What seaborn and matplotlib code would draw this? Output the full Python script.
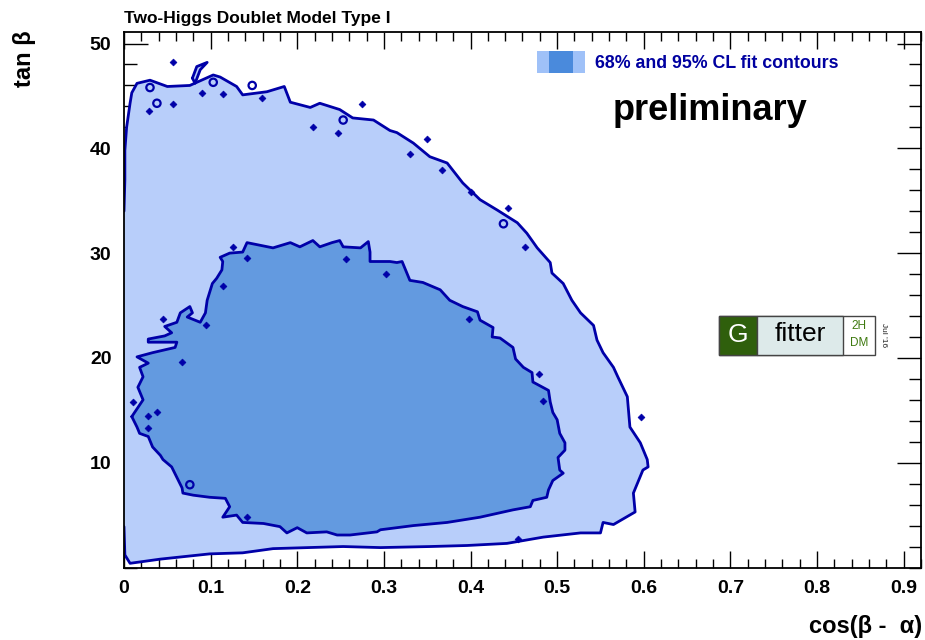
import numpy as np
import pandas as pd
import matplotlib
matplotlib.use("Agg")
import matplotlib.pyplot as plt
from matplotlib.patches import Rectangle
from matplotlib.ticker import MultipleLocator
import seaborn as sns

# ---- fit contours in (cos(beta-alpha), tan beta) ----
cl95_x = [0.000, 0.001, 0.001, 0.003, 0.007, 0.009, 0.015, 0.030, 0.050, 0.076, 0.103,
          0.111, 0.130, 0.137, 0.165, 0.185, 0.192, 0.215, 0.226, 0.249, 0.264, 0.288,
          0.307, 0.315, 0.334, 0.353, 0.373, 0.391, 0.411, 0.431, 0.454, 0.465, 0.477,
          0.492, 0.494, 0.507, 0.517, 0.527, 0.542, 0.546, 0.553, 0.565, 0.570, 0.581,
          0.584, 0.596, 0.604, 0.605, 0.599, 0.588, 0.590, 0.565, 0.553, 0.550, 0.527,
          0.484, 0.442, 0.396, 0.353, 0.296, 0.253, 0.172, 0.137, 0.099, 0.042, 0.007,
          0.001, 0.000]
cl95_y = [34.0, 37.0, 39.8, 42.0, 44.3, 45.3, 46.2, 46.5, 45.9, 46.0, 47.0,
          46.8, 45.9, 45.1, 45.4, 45.9, 44.4, 43.9, 44.3, 43.7, 42.9, 42.7,
          41.7, 41.5, 40.5, 39.2, 38.6, 36.7, 35.1, 34.1, 32.9, 31.9, 30.5,
          29.1, 28.1, 27.1, 25.5, 24.3, 23.1, 21.7, 20.5, 19.1, 18.2, 16.3,
          13.4, 11.9, 10.3, 9.6, 9.3, 7.1, 5.3, 4.1, 4.3, 3.3, 3.3,
          2.9, 2.3, 2.1, 2.0, 1.9, 2.0, 1.8, 1.4, 1.3, 0.8, 0.4,
          1.2, 3.9]

cl68_x = [0.009, 0.022, 0.016, 0.022, 0.018, 0.028, 0.015, 0.033, 0.059, 0.061, 0.028,
          0.028, 0.047, 0.055, 0.047, 0.061, 0.065, 0.076, 0.079, 0.073, 0.088, 0.094,
          0.096, 0.102, 0.107, 0.113, 0.114, 0.111, 0.122, 0.137, 0.142, 0.154, 0.172,
          0.184, 0.192, 0.203, 0.218, 0.226, 0.240, 0.249, 0.253, 0.273, 0.282, 0.284,
          0.284, 0.307, 0.315, 0.321, 0.330, 0.345, 0.365, 0.376, 0.391, 0.408, 0.411,
          0.426, 0.425, 0.434, 0.449, 0.452, 0.461, 0.471, 0.472, 0.490, 0.492, 0.495,
          0.500, 0.503, 0.509, 0.509, 0.501, 0.503, 0.507, 0.495, 0.490, 0.488, 0.472,
          0.469, 0.449, 0.411, 0.373, 0.334, 0.296, 0.292, 0.261, 0.246, 0.234, 0.211,
          0.200, 0.188, 0.180, 0.161, 0.137, 0.130, 0.114, 0.122, 0.117, 0.099, 0.080,
          0.068, 0.067, 0.061, 0.055, 0.045, 0.042, 0.033, 0.028, 0.018, 0.015, 0.009]
cl68_y = [14.4, 16.0, 17.2, 18.2, 19.1, 19.5, 20.1, 20.5, 21.0, 21.5, 21.5,
          21.8, 22.1, 22.4, 23.0, 23.4, 24.3, 24.9, 24.3, 23.9, 23.4, 24.3,
          25.5, 27.1, 27.6, 28.4, 29.2, 29.6, 30.0, 30.1, 31.0, 30.8, 30.5,
          30.8, 31.0, 30.6, 31.2, 30.6, 31.0, 31.2, 30.6, 30.5, 31.1, 30.1,
          29.2, 29.2, 29.1, 29.2, 27.4, 27.2, 26.5, 25.5, 24.9, 24.4, 23.6,
          22.9, 22.0, 21.9, 21.0, 19.9, 19.1, 18.6, 17.7, 16.9, 15.8, 14.8,
          14.1, 12.8, 11.9, 11.2, 10.5, 9.3, 9.0, 8.3, 7.4, 6.7, 6.4,
          5.8, 5.5, 4.8, 4.3, 4.0, 3.6, 3.4, 3.1, 3.1, 3.4, 3.3,
          3.8, 3.3, 3.9, 4.2, 4.3, 5.0, 4.8, 5.8, 6.6, 6.7, 6.9,
          7.1, 7.6, 8.6, 9.6, 10.3, 10.7, 11.5, 12.5, 12.8, 13.4, 14.4]

# small detached 95% island near the top edge
isl_x = [0.079, 0.084, 0.096, 0.088, 0.082, 0.079]
isl_y = [46.7, 47.8, 48.2, 47.5, 46.2, 46.7]

# isolated fluctuation points of the scan
dot_x = [0.057, 0.090, 0.114, 0.159, 0.057, 0.029, 0.275, 0.218, 0.247, 0.350, 0.330,
         0.367, 0.400, 0.443, 0.463, 0.597, 0.455,
         0.126, 0.142, 0.114, 0.045, 0.095, 0.067, 0.010, 0.028, 0.038, 0.028,
         0.256, 0.303, 0.398, 0.479, 0.484, 0.142]
dot_y = [48.2, 45.3, 45.2, 44.8, 44.2, 43.6, 44.2, 42.0, 41.5, 40.9, 39.5,
         37.9, 35.8, 34.3, 30.6, 14.4, 2.7,
         30.6, 29.5, 26.9, 23.7, 23.1, 19.6, 15.8, 14.5, 14.8, 13.3,
         29.4, 28.0, 23.7, 18.5, 15.9, 4.8]

# small closed rings of the scan
ring_x = [0.030, 0.038, 0.103, 0.148, 0.253, 0.438, 0.076]
ring_y = [45.8, 44.3, 46.3, 46.0, 42.7, 32.8, 7.9]

x_ticks = [0.0, 0.1, 0.2, 0.3, 0.4, 0.5, 0.6, 0.7, 0.8, 0.9]
x_tick_labels = ["0", "0.1", "0.2", "0.3", "0.4", "0.5", "0.6", "0.7", "0.8", "0.9"]
y_ticks = [10, 20, 30, 40, 50]
y_tick_labels = ["10", "20", "30", "40", "50"]

title_text = "Two-Higgs Doublet Model Type I"
legend_text = "68% and 95% CL fit contours"
x_label = "cos(β -  α)"
y_label = "tan β"

# ---- styling ----
C95 = "#b8cefa"
C68 = "#639ae0"
CLINE = "#0000a8"
LEG95 = "#9fc1f8"
LEG68 = "#4a8adc"

sns.set_theme(style="ticks")
plt.rcParams["font.family"] = ["Liberation Sans", "DejaVu Sans"]
plt.rcParams["font.weight"] = "bold"
plt.rcParams["text.color"] = "black"
plt.rcParams["xtick.labelcolor"] = "black"
plt.rcParams["ytick.labelcolor"] = "black"

W, H = 925, 640
fig = plt.figure(figsize=(W / 100, H / 100), dpi=100)
fig.patch.set_facecolor("white")


def fx(px):
    return px / W


def fy(py):
    return 1 - py / H


ax = fig.add_axes([fx(124), fy(567.5), fx(921) - fx(124), fy(32) - fy(567.5)])
ax.set_facecolor("white")

# filled regions
ax.fill(cl95_x, cl95_y, color=C95, lw=0, zorder=1)
ax.fill(isl_x, isl_y, color=C95, lw=0, zorder=1)
ax.fill(cl68_x, cl68_y, color=C68, lw=0, zorder=2)

# contour outlines
df95 = pd.DataFrame({"x": cl95_x, "y": cl95_y})
df68 = pd.DataFrame({"x": cl68_x, "y": cl68_y})
dfis = pd.DataFrame({"x": isl_x, "y": isl_y})
for d in (df95, df68, dfis):
    sns.lineplot(data=d, x="x", y="y", sort=False, estimator=None, color=CLINE,
                 lw=2.0, ax=ax, zorder=3)

sns.scatterplot(x=dot_x, y=dot_y, ax=ax, marker="D", s=12, color=CLINE,
                edgecolor=CLINE, linewidth=0.5, zorder=4)
sns.scatterplot(x=ring_x, y=ring_y, ax=ax, marker="o", s=28, facecolor="none",
                edgecolor=CLINE, linewidth=1.6, zorder=4)

ax.set_xlim(0, 0.92)
ax.set_ylim(0, 51.1)
ax.set_xticks(x_ticks)
ax.set_xticklabels(x_tick_labels)
ax.set_yticks(y_ticks)
ax.set_yticklabels(y_tick_labels)
ax.xaxis.set_minor_locator(MultipleLocator(0.02))
ax.yaxis.set_minor_locator(MultipleLocator(2))
ax.set_xlabel("")
ax.set_ylabel("")

for s in ax.spines.values():
    s.set_visible(True)
    s.set_color("black")
    s.set_linewidth(1.3)
    s.set_zorder(6)

ax.tick_params(axis="both", which="both", direction="in", top=True, right=True,
               color="black", labelcolor="black", width=1.0, zorder=6)
ax.tick_params(axis="x", which="major", length=12.5, labelsize=14, pad=9)
ax.tick_params(axis="x", which="minor", length=6.5)
ax.tick_params(axis="y", which="major", length=17.5, labelsize=14, pad=9)
ax.tick_params(axis="y", which="minor", length=9)
for lab in ax.get_xticklabels() + ax.get_yticklabels():
    lab.set_fontweight("bold")
    lab.set_color("black")

# titles
fig.text(fx(124), fy(18), title_text, fontsize=12.5, fontweight="bold",
         ha="left", va="center", color="black")
fig.text(fx(922), fy(627), x_label, fontsize=17, fontweight="bold",
         ha="right", va="center", color="black")
fig.text(fx(25), fy(30), y_label, fontsize=17, fontweight="bold", rotation=90,
         ha="center", va="top", color="black")

# legend
fig.add_artist(Rectangle((fx(537), fy(73)), fx(585) - fx(537), fy(51) - fy(73),
                         transform=fig.transFigure, color=LEG95, lw=0))
fig.add_artist(Rectangle((fx(549), fy(73)), fx(573) - fx(549), fy(51) - fy(73),
                         transform=fig.transFigure, color=LEG68, lw=0))
fig.text(fx(595), fy(64), legend_text, fontsize=12.8, fontweight="bold",
         ha="left", va="center", color="#0000a0")

fig.text(fx(710), fy(111), "preliminary", fontsize=26, fontweight="bold",
         ha="center", va="center", color="black")

# Gfitter badge
fig.add_artist(Rectangle((fx(719), fy(355)), fx(875) - fx(719), fy(316) - fy(355),
                         transform=fig.transFigure, facecolor="white",
                         edgecolor="#444444", lw=1.0))
fig.add_artist(Rectangle((fx(719), fy(355)), fx(757) - fx(719), fy(316) - fy(355),
                         transform=fig.transFigure, facecolor="#2f5f0c",
                         edgecolor="#444444", lw=1.0))
fig.add_artist(Rectangle((fx(757), fy(355)), fx(843) - fx(757), fy(316) - fy(355),
                         transform=fig.transFigure, facecolor="#ddeaea",
                         edgecolor="#444444", lw=1.0))
fig.text(fx(738), fy(335), "G", fontsize=19, fontweight="normal",
         ha="center", va="center", color="white")
fig.text(fx(800), fy(334), "fitter", fontsize=19, fontweight="normal",
         ha="center", va="center", color="black")
fig.text(fx(859), fy(326), "2H", fontsize=8.5, fontweight="normal",
         ha="center", va="center", color="#3f7a10")
fig.text(fx(859), fy(343), "DM", fontsize=8.5, fontweight="normal",
         ha="center", va="center", color="#3f7a10")
fig.text(fx(883), fy(335), "Jul '16", fontsize=6, fontweight="normal",
         rotation=-90, ha="center", va="center", color="#222222")

fig.savefig("out.png", dpi=100)
